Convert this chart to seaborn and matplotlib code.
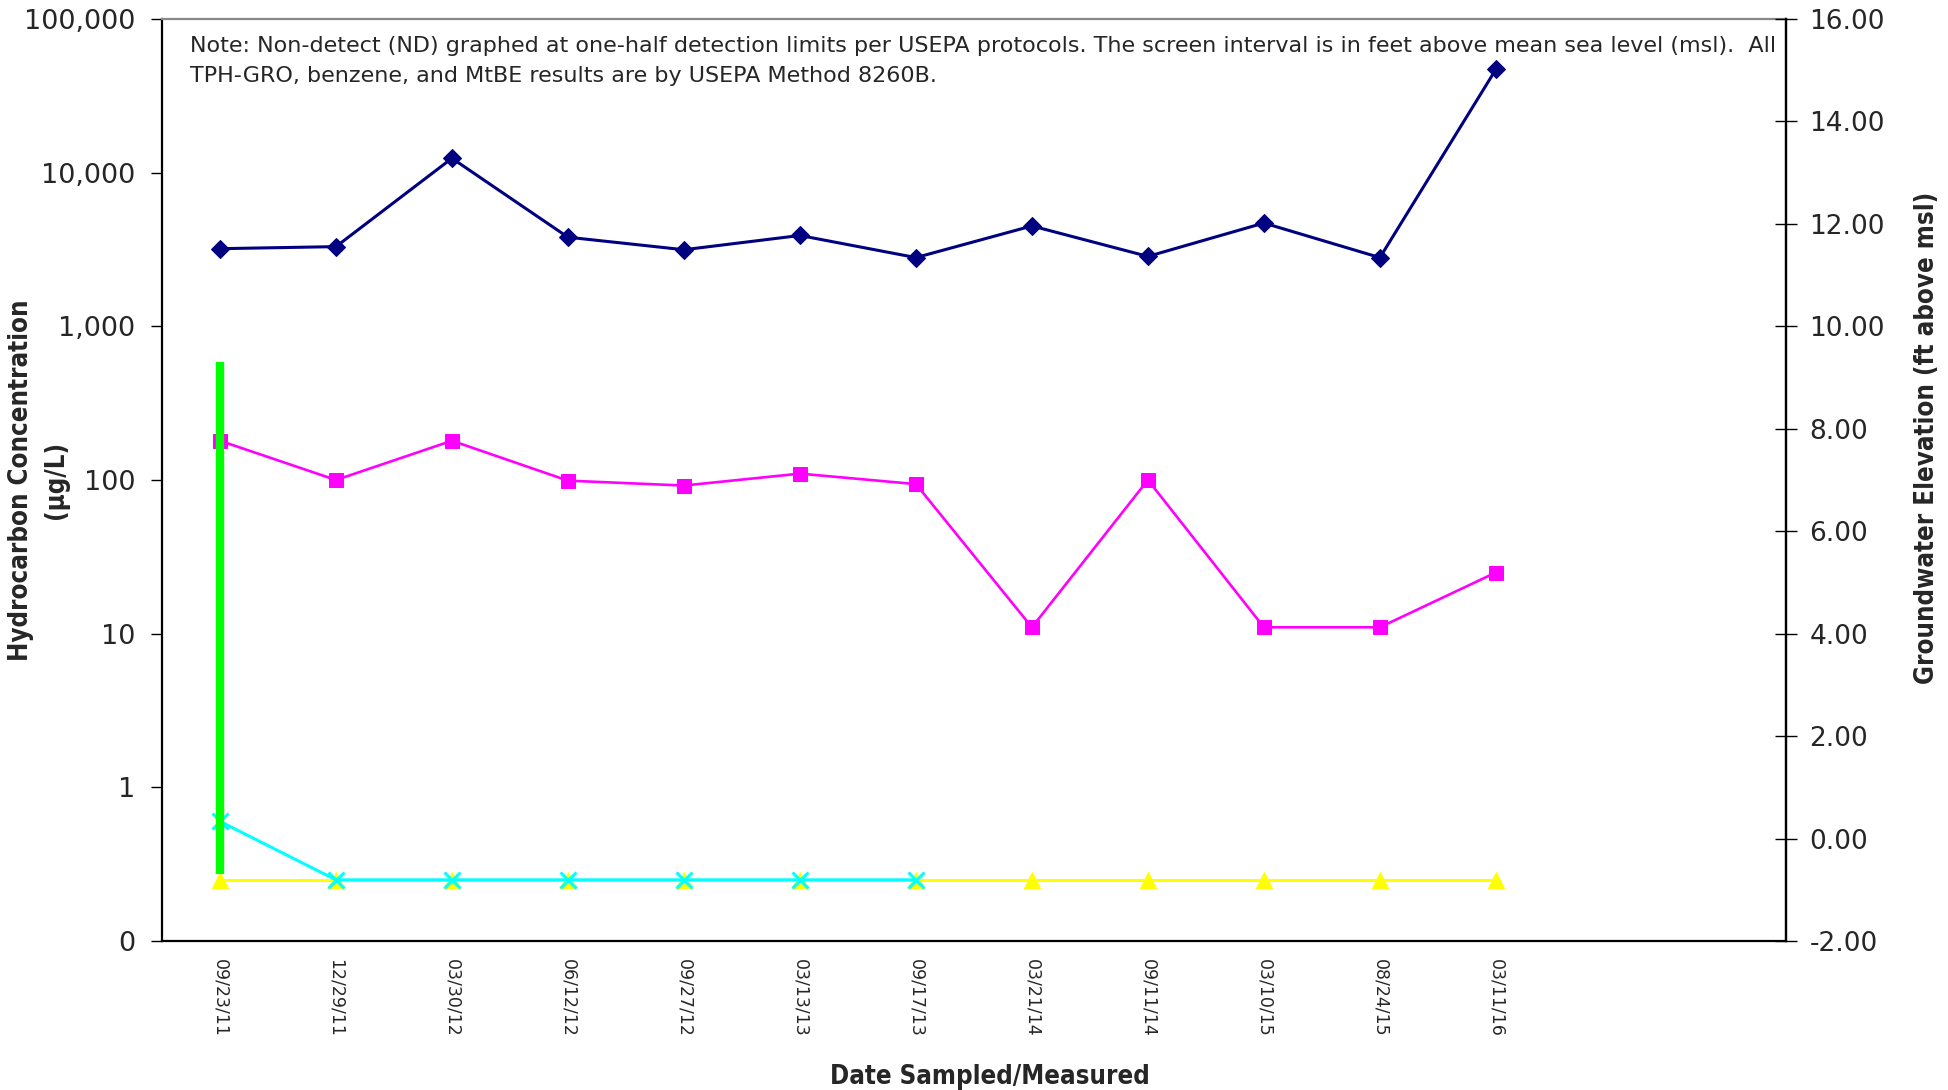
import numpy as np
import pandas as pd
import matplotlib
matplotlib.use("Agg")
import matplotlib.pyplot as plt
from matplotlib.ticker import FixedLocator, NullLocator
import seaborn as sns

# ---------------- data ----------------
dates = ["09/23/11", "12/29/11", "03/30/12", "06/12/12", "09/27/12", "03/13/13",
         "09/17/13", "03/21/14", "09/11/14", "03/10/15", "08/24/15", "03/11/16"]
n_slots = 14  # category axis has two empty slots after the last date

tph_gro = [3200, 3300, 12400, 3800, 3150, 3900, 2800, 4500, 2850, 4700, 2800, 47000]
benzene = [180, 100, 180, 99, 92, 110, 94, 11, 100, 11, 11, 25]
mtbe = [0.6, 0.25, 0.25, 0.25, 0.25, 0.25, 0.25,
        np.nan, np.nan, np.nan, np.nan, np.nan]
nd_half = [0.25, 0.25, 0.25, 0.25, 0.25, 0.25, 0.25, 0.25, 0.25, 0.25, 0.25, 0.25]

screen_interval = [-0.7, 9.3]  # ft above msl, drawn at first date

left_ticks = [0.1, 1, 10, 100, 1000, 10000, 100000]
left_tick_labels = ["0", "1", "10", "100", "1,000", "10,000", "100,000"]
right_ticks = [-2, 0, 2, 4, 6, 8, 10, 12, 14, 16]
right_tick_labels = ["-2.00", "0.00", "2.00", "4.00", "6.00", "8.00",
                     "10.00", "12.00", "14.00", "16.00"]

note = ("Note: Non-detect (ND) graphed at one-half detection limits per USEPA protocols. "
        "The screen interval is in feet above mean sea level (msl).  All\n"
        "TPH-GRO, benzene, and MtBE results are by USEPA Method 8260B.")

# ---------------- style ----------------
sns.set_style("white")
plt.rcParams["font.family"] = ["DejaVu Sans"]

pos = np.arange(len(dates))
df = pd.DataFrame({"pos": pos, "tph": tph_gro, "benz": benzene,
                   "mtbe": mtbe, "nd": nd_half})

fig = plt.figure(figsize=(19.49, 10.90), dpi=100)
ax = fig.add_axes([0.0831, 0.1367, 0.8332, 0.8459])

sns.lineplot(data=df, x="pos", y="nd", ax=ax, color="#FFFF00", linewidth=2.2,
             marker="^", markersize=11, markeredgecolor="#FFFF00")
sns.lineplot(data=df, x="pos", y="mtbe", ax=ax, color="#00FFFF", linewidth=2.2,
             marker="x", markersize=12, markeredgewidth=2.2, markeredgecolor="#00FFFF")
sns.lineplot(data=df, x="pos", y="benz", ax=ax, color="#FF00FF", linewidth=1.9,
             marker="s", markersize=10.5, markeredgecolor="#FF00FF")
sns.lineplot(data=df, x="pos", y="tph", ax=ax, color="#000080", linewidth=2.2,
             marker="D", markersize=9.5, markeredgecolor="#000080")

ax.set_yscale("log")
ax.set_ylim(left_ticks[0], left_ticks[-1])
ax.yaxis.set_major_locator(FixedLocator(left_ticks))
ax.yaxis.set_minor_locator(NullLocator())
ax.set_yticklabels(left_tick_labels)
ax.set_xlim(-0.5, n_slots - 0.5)
ax.set_xticks(pos)
ax.set_xticklabels(dates, rotation=-90, fontsize=12.5, va="top", ha="center")
ax.set_xticks(np.arange(-0.5, n_slots, 1), minor=True)
ax.tick_params(axis="x", which="major", length=0, pad=13)
ax.tick_params(axis="x", which="minor", length=7, width=1, direction="out", color="black")
ax.tick_params(axis="y", which="major", length=8, width=1, direction="out",
               labelsize=19.5, color="black", left=True, pad=11)

lab_kw = dict(fontsize=18.5, fontweight="bold", fontstretch="condensed")
ax.set_xlabel("Date Sampled/Measured", va="center", **lab_kw)
ax.xaxis.set_label_coords(0.51, -0.1475)
ax.set_ylabel("Hydrocarbon Concentration", va="center", **lab_kw)
ax.yaxis.set_label_coords(-0.0868, 0.5)
ax.text(-0.0653, 0.5, "(µg/L)", transform=ax.transAxes, rotation=90,
        va="center", ha="center", **lab_kw)

for s in ["left", "bottom", "right"]:
    ax.spines[s].set_color("black")
    ax.spines[s].set_linewidth(1.6)
ax.spines["top"].set_color("#888888")
ax.spines["top"].set_linewidth(1.6)

# secondary axis: groundwater elevation / screen interval
ax2 = ax.twinx()
ax2.plot([0, 0], screen_interval, color="#00FF00", linewidth=6, solid_capstyle="butt")
ax2.set_ylim(right_ticks[0], right_ticks[-1])
ax2.set_yticks(right_ticks)
ax2.set_yticklabels(right_tick_labels)
ax2.tick_params(axis="y", length=16, width=1, direction="inout", labelsize=19,
                color="black", right=True, pad=9)
ax2.set_ylabel("Groundwater Elevation (ft above msl)", va="center", rotation=90, **lab_kw)
ax2.yaxis.set_label_coords(1.087, 0.546)
for s in ax2.spines.values():
    s.set_visible(False)
ax2.spines["right"].set_visible(True)
ax2.spines["right"].set_color("black")
ax2.spines["right"].set_linewidth(1.6)

ax.text(0.017, 0.982, note, transform=ax.transAxes, fontsize=16, va="top", ha="left",
        linespacing=1.65)

fig.savefig("out.png", dpi=100)
